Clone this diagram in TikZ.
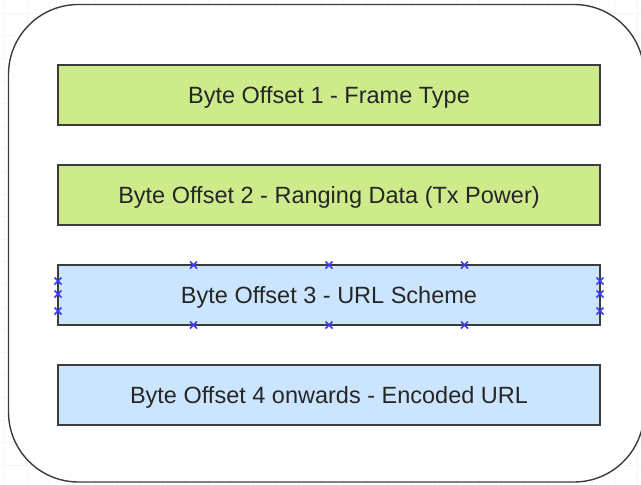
\documentclass[tikz,border=0pt]{standalone}
\usepackage{fontspec}
\setmainfont{Liberation Sans}
\definecolor{fieldgreen}{HTML}{CDEB8B}
\definecolor{fieldblue}{HTML}{CCE5FF}
\definecolor{fieldline}{HTML}{3C3C3C}
\definecolor{handleblue}{HTML}{3A3AFF}
\begin{document}
\begin{tikzpicture}[x=1pt,y=-1pt,
  field/.style={draw=fieldline,line width=1.3pt,minimum width=542pt,minimum height=60pt,inner sep=0pt,text height=17pt,text depth=0pt,text=black!85,font=\fontsize{23.5}{26}\selectfont},
  handle/.style={draw=handleblue,line width=1.5pt}]
\useasboundingbox (0,0) rectangle (641,485);
% faint canvas grid
\foreach \i in {0,...,28} \draw[black!3.5] ({4.4+22.6*\i},0) -- ({4.4+22.6*\i},485);
\foreach \i in {0,...,21} \draw[black!3.5] (0,{13+22.6*\i}) -- (641,{13+22.6*\i});
% frame
\draw[fieldline,line width=1.4pt,fill=white,rounded corners=70pt] (8.5,4.5) rectangle (644,482);
% fields
\node[field,fill=fieldgreen] (frametype) at (329,95) {Byte Offset 1 - Frame Type};
\node[field,fill=fieldgreen] (txpower) at (329,195) {Byte Offset 2 - Ranging Data (Tx Power)};
\node[field,fill=fieldblue] (urlscheme) at (329,295) {Byte Offset 3 - URL Scheme};
\node[field,fill=fieldblue] (encodedurl) at (329,395) {Byte Offset 4 onwards - Encoded URL};
% selection handles
\foreach \hx in {193.5,329,464.5} {
  \draw[handle] (\hx-3.5,261.5) -- (\hx+3.5,268.5) (\hx-3.5,268.5) -- (\hx+3.5,261.5);
  \draw[handle] (\hx-3.5,321.5) -- (\hx+3.5,328.5) (\hx-3.5,328.5) -- (\hx+3.5,321.5);
}
\foreach \hy in {281,294,311} {
  \draw[handle] (54.5,\hy-3.5) -- (61.5,\hy+3.5) (54.5,\hy+3.5) -- (61.5,\hy-3.5);
  \draw[handle] (596.5,\hy-3.5) -- (603.5,\hy+3.5) (596.5,\hy+3.5) -- (603.5,\hy-3.5);
}
\end{tikzpicture}
\end{document}
